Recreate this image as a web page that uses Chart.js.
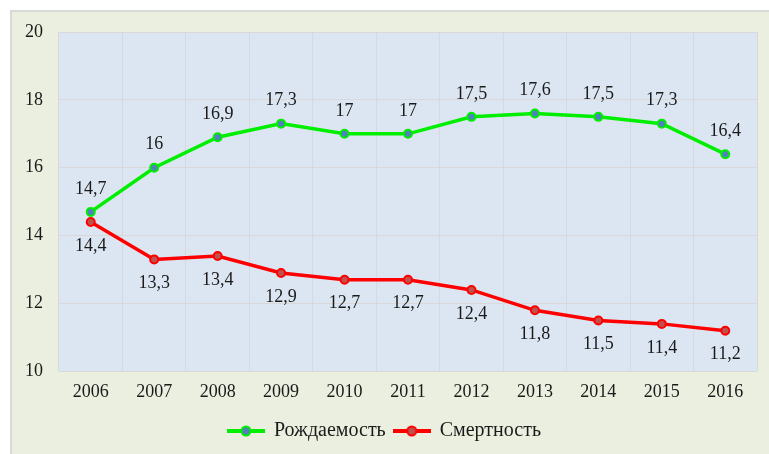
<!DOCTYPE html>
<html>
<head>
<meta charset="utf-8">
<script src="https://cdn.jsdelivr.net/npm/chart.js@4"></script>
<style>
  html, body { margin: 0; padding: 0; background: #ffffff; }
  #box {
    position: absolute; left: 10px; top: 10px;
    width: 757px; height: 442px;
    background: #ebefe0;
    border-top: 2px solid #d9d9d9;
    border-left: 2px solid #d9d9d9;
  }
  #graficos { display: block; }
</style>
</head>
<body>
<div id="box"><canvas id="graficos" width="757" height="442"></canvas></div>
<script>
// данные
const years = ['2006', '2007', '2008', '2009', '2010', '2011', '2012', '2013', '2014', '2015', '2016'];
const rozhdaemost = [14.7, 16, 16.9, 17.3, 17, 17, 17.5, 17.6, 17.5, 17.3, 16.4];
const smertnost = [14.4, 13.3, 13.4, 12.9, 12.7, 12.7, 12.4, 11.8, 11.5, 11.4, 11.2];
const yTicks = [10, 12, 14, 16, 18, 20];

const fontFam = "'Liberation Serif', 'Times New Roman', serif";

function legendIcon(lineColor, fillColor) {
    const c = document.createElement('canvas');
    c.width = 38; c.height = 14;
    const g = c.getContext('2d');
    g.strokeStyle = lineColor;
    g.lineWidth = 4;
    g.beginPath(); g.moveTo(0, 7); g.lineTo(38, 7); g.stroke();
    g.beginPath(); g.arc(19, 7, 4.5, 0, Math.PI * 2);
    g.fillStyle = fillColor; g.fill();
    g.lineWidth = 2; g.strokeStyle = lineColor; g.stroke();
    return c;
}
const iconGreen = legendIcon('#00ee00', '#4f81bd');
const iconRed = legendIcon('#ff0000', '#c0504d');

// фон области построения
const plotBg = {
    id: 'plotBg',
    beforeDraw(chart) {
        const a = chart.chartArea, ctx = chart.ctx;
        ctx.save();
        ctx.fillStyle = '#dce6f2';
        ctx.fillRect(a.left, a.top, a.right - a.left, a.bottom - a.top);
        ctx.restore();
    }
};

// подписи значений
const valueLabels = {
    id: 'valueLabels',
    afterDatasetsDraw(chart) {
        const ctx = chart.ctx;
        ctx.save();
        ctx.font = '18px ' + fontFam;
        ctx.fillStyle = '#1a1a1a';
        ctx.textAlign = 'center';
        ctx.textBaseline = 'middle';
        chart.data.datasets.forEach((ds, i) => {
            const meta = chart.getDatasetMeta(i);
            const off = i === 0 ? -23 : 24;
            meta.data.forEach((pt, j) => {
                const txt = String(ds.data[j]).replace('.', ',');
                ctx.fillText(txt, pt.x, pt.y + off);
            });
        });
        ctx.restore();
    }
};

const ctx = document.getElementById('graficos').getContext('2d');
const myChart = new Chart(ctx, {
    type: 'line',
    data: {
        labels: years,
        datasets: [
            {
                label: 'Рождаемость',
                data: rozhdaemost,
                borderColor: '#00ee00',
                backgroundColor: '#4f81bd',
                pointBackgroundColor: '#4f81bd',
                pointBorderColor: '#00ee00',
                borderWidth: 3.5,
                pointRadius: 4,
                pointBorderWidth: 2,
                tension: 0
            },
            {
                label: 'Смертность',
                data: smertnost,
                borderColor: '#ff0000',
                backgroundColor: '#c0504d',
                pointBackgroundColor: '#c0504d',
                pointBorderColor: '#ff0000',
                borderWidth: 3.5,
                pointRadius: 4,
                pointBorderWidth: 2,
                tension: 0
            }
        ]
    },
    options: {
        responsive: false,
        animation: false,
        layout: { padding: { left: 0, right: 12, top: 20, bottom: 3 } },
        plugins: {
            tooltip: { enabled: false },
            legend: {
                position: 'bottom',
                labels: {
                    usePointStyle: true,
                    pointStyleWidth: 36,
                    padding: 8,
                    color: '#1a1a1a',
                    font: { family: fontFam, size: 20 },
                    generateLabels(chart) {
                        return chart.data.datasets.map((ds, i) => ({
                            text: ds.label,
                            pointStyle: i === 0 ? iconGreen : iconRed,
                            fillStyle: ds.backgroundColor,
                            strokeStyle: ds.borderColor,
                            lineWidth: 0,
                            hidden: false,
                            datasetIndex: i,
                            fontColor: '#1a1a1a'
                        }));
                    }
                }
            }
        },
        scales: {
            x: {
                offset: true,
                grid: { color: '#d9d9d9', lineWidth: 1, drawTicks: false, offset: true },
                border: { display: false },
                ticks: { color: '#1a1a1a', font: { family: fontFam, size: 18 }, padding: 10, maxRotation: 0 }
            },
            y: {
                min: 10,
                max: 20,
                afterFit(scale) {
                    scale.width = 47;
                    scale.paddingTop = 0;
                },
                afterBuildTicks(scale) { scale.ticks = yTicks.map(v => ({ value: v })); },
                grid: { color: '#d9d9d9', lineWidth: 1, drawTicks: false },
                border: { display: false },
                ticks: { color: '#1a1a1a', font: { family: fontFam, size: 18 }, padding: 16 }
            }
        }
    },
    plugins: [plotBg, valueLabels]
});
</script>
</body>
</html>
